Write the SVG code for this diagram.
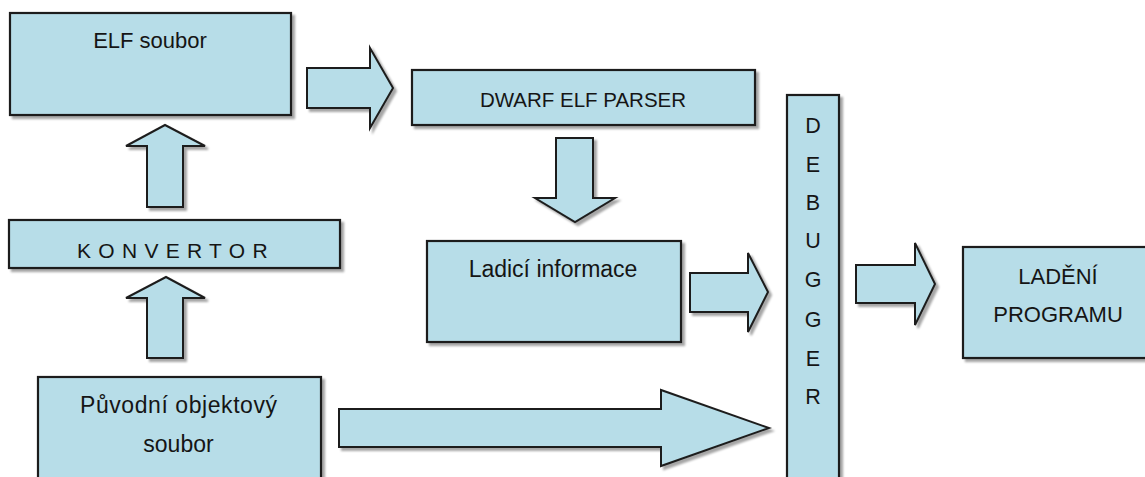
<svg xmlns="http://www.w3.org/2000/svg" width="1145" height="477" viewBox="0 0 1145 477">
<style>
.box{fill:#b7dde8;stroke:#1e1e1e;stroke-width:2.2;filter:url(#sh)}
.arr{fill:#b7dde8;stroke:#1e1e1e;stroke-width:2;stroke-linejoin:miter;filter:url(#sh)}
.t{font-family:"Liberation Sans",Arial,sans-serif;fill:#151515;font-size:22px;text-anchor:middle}
.dl{font-size:21.5px}
</style>
<defs>
<filter id="sh" x="-10%" y="-10%" width="130%" height="130%">
<feDropShadow dx="3" dy="3" stdDeviation="1.2" flood-color="#000" flood-opacity="0.35"/>
</filter>
</defs>
<rect width="1145" height="477" fill="#ffffff"/>
<g id="connectors">
<polygon class="arr" points="307,68 370,68 370,48 393,88 370,128 370,108 307,108"/>
<polygon class="arr" points="556,138 593,138 593,198 615,198 575,222 535,198 556,198"/>
<polygon class="arr" points="690,273 748,273 748,253 768,292 748,332 748,312 690,312"/>
<polygon class="arr" points="339,409 661,409 661,390 769,428 661,466 661,447 339,447"/>
<polygon class="arr" points="856,265 915,265 915,243 935,284 915,325 915,303 856,303"/>
<polygon class="arr" points="165,125 205,146 183,146 183,207 147,207 147,146 126,146"/>
<polygon class="arr" points="166,277 205,298 183,298 183,358 147,358 147,298 126,298"/>
</g>
<g id="elf">
<rect class="box" x="10" y="13" width="281" height="102"/>
<text class="t" x="150" y="48">ELF soubor</text>
</g>
<g id="dwarf">
<rect class="box" x="412" y="70" width="343" height="55"/>
<text class="t" x="583" y="107" style="font-size:20.5px">DWARF ELF PARSER</text>
</g>
<g id="ladici">
<rect class="box" x="427" y="241" width="254" height="101"/>
<text class="t" x="553" y="277" style="font-size:23px">Ladicí informace</text>
</g>
<g id="konvertor">
<rect class="box" x="9" y="220" width="331" height="48"/>
<text class="t" x="77" y="258" style="text-anchor:start;font-size:21px;letter-spacing:7.3px">KONVERTOR</text>
</g>
<g id="puvodni">
<rect class="box" x="38" y="377" width="283" height="115"/>
<text class="t" x="178.5" y="413" style="font-size:23px" textLength="197">Původní objektový</text>
<text class="t" x="178.5" y="452" style="font-size:23px">soubor</text>
</g>
<g id="debugger">
<rect class="box" x="787" y="95" width="52" height="400"/>
<text class="t dl" x="813" y="133">D</text>
<text class="t dl" x="813" y="172">E</text>
<text class="t dl" x="813" y="210">B</text>
<text class="t dl" x="813" y="248">U</text>
<text class="t dl" x="813" y="287">G</text>
<text class="t dl" x="813" y="327">G</text>
<text class="t dl" x="813" y="366">E</text>
<text class="t dl" x="813" y="404">R</text>
</g>
<g id="ladeni">
<rect class="box" x="963" y="247" width="200" height="111"/>
<text class="t" x="1058" y="284">LADĚNÍ</text>
<text class="t" x="1058" y="322">PROGRAMU</text>
</g>
</svg>
